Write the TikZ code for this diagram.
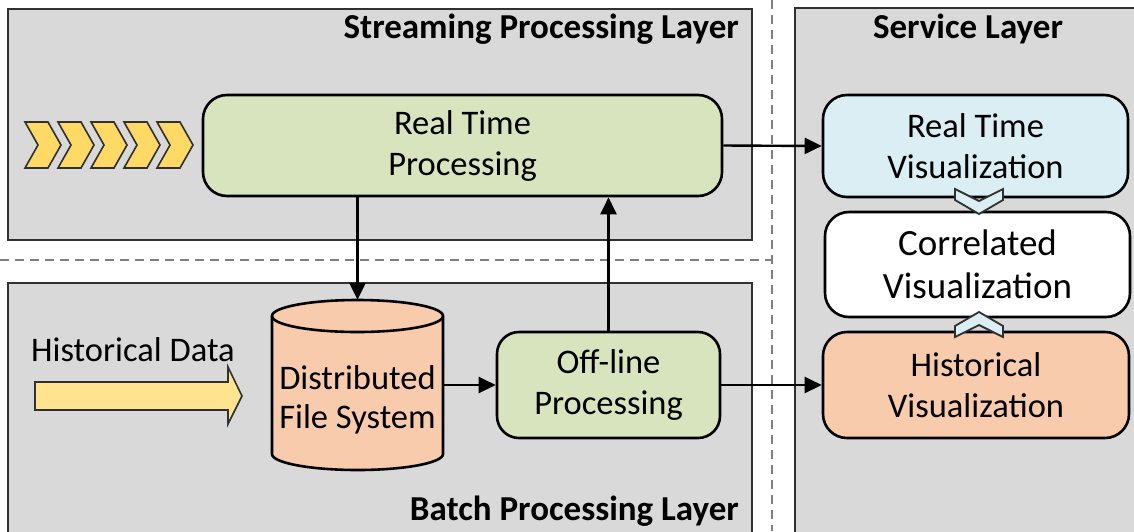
\documentclass[tikz,border=0pt]{standalone}
\usepackage{fontspec}
\setmainfont{Carlito}
\usetikzlibrary{arrows.meta}

\definecolor{panelgray}{HTML}{D9D9D9}
\definecolor{boxgreen}{HTML}{D7E4BD}
\definecolor{boxpeach}{HTML}{F8CBAD}
\definecolor{boxblue}{HTML}{DAEEF3}
\definecolor{chevyellow}{HTML}{FFD966}
\definecolor{arrowyellow}{HTML}{FFE38F}
\definecolor{dashgray}{HTML}{7F7F7F}
\definecolor{edgegray}{HTML}{303030}

\tikzset{
  panel/.style={draw=edgegray, line width=1.8pt, fill=panelgray},
  sepline/.style={draw=dashgray, line width=1.4pt, dash pattern=on 9pt off 6pt},
  layertitle/.style={font=\fontsize{35}{42}\selectfont\bfseries, inner sep=0pt},
  procbox/.style={draw=black, line width=2.6pt, rounded corners=24pt, align=center,
    font=\fontsize{34.5}{41}\selectfont, inner sep=0pt},
  store/.style={draw=black, line width=2.6pt, fill=boxpeach},
  flow/.style={draw=black, line width=2.4pt, -{Triangle[length=17pt,width=16pt]}},
  chev/.style={draw=edgegray, line width=1.6pt, fill=chevyellow, line join=miter},
  smallchev/.style={draw=edgegray, line width=1.8pt, fill=boxblue, line join=miter},
  bigarrow/.style={draw=edgegray, line width=1.6pt, fill=arrowyellow, line join=miter},
}

\begin{document}
\begin{tikzpicture}[x=1pt,y=-1pt]
\useasboundingbox (0,0) rectangle (1134,531);
\fill[white] (0,0) rectangle (1134,531);
\clip (0,0) rectangle (1134,531);

% layer panels
\path[panel] (8,9) rectangle (752,240);
\path[panel] (8,283) rectangle (752,545);
\path[panel] (795,8) rectangle (1150,545);

% separators between the layers
\path[sepline] (0,260) -- (772,260);
\path[sepline] (772,0) -- (772,531);

% layer titles
\node[layertitle, anchor=east] (tstream) at (739,29) {Streaming Processing Layer};
\node[layertitle] (tservice) at (968,29) {Service Layer};
\node[layertitle, anchor=east] (tbatch) at (739,511) {Batch Processing Layer};

% incoming stream
\foreach \i in {0,...,4}{
  \pgfmathsetmacro\xo{25+33*\i}
  \path[chev] (\xo,122) -- ++(23,0) -- ++(13,23) -- ++(-13,23) -- ++(-23,0) -- ++(13,-23) -- cycle;
}

% historical data input
\node[font=\fontsize{34.5}{41}\selectfont, inner sep=0pt] (hdata) at (133,350) {Historical Data};
\path[bigarrow] (35,382) -- (228,382) -- (228,367) -- (242,396) -- (228,424) -- (228,410) -- (35,410) -- cycle;

% processing nodes
\node[procbox, fill=boxgreen, minimum width=519pt, minimum height=101pt] (rtp) at (462.5,145.5) {Real Time\\Processing};

% distributed file system drawn as a cylinder
\path[store] (272,316) -- (272,454)
  arc[start angle=180, end angle=360, x radius=85.5pt, y radius=16pt]
  -- (443,316)
  arc[start angle=0, end angle=180, x radius=85.5pt, y radius=16pt] -- cycle;
\draw[line width=2.6pt] (272,316) arc[start angle=180, end angle=360, x radius=85.5pt, y radius=16pt];
\node[inner sep=0pt, minimum width=171pt, minimum height=170pt] (dfs) at (357.5,385) {};
\node[align=center, inner sep=0pt, font=\fontsize{34.5}{39}\selectfont] (dfslabel) at (357.5,400) {Distributed\\File System};

\node[procbox, fill=boxgreen, rounded corners=22pt, minimum width=223pt, minimum height=106pt] (off) at (608.5,385) {Off-line\\Processing};

% service nodes
\node[procbox, fill=boxblue, minimum width=305pt, minimum height=102pt] (rtv) at (975.5,146) {Real Time\\Visualization};
\node[procbox, fill=white, minimum width=305pt, minimum height=105pt, font=\fontsize{37}{43}\selectfont] (corr) at (977.5,264.5) {Correlated\\Visualization};
\node[procbox, fill=boxpeach, minimum width=306pt, minimum height=106pt] (hist) at (976,385) {Historical\\Visualization};

% merge markers
\path[smallchev] (955,189) -- (979,201) -- (1003,189) -- (1003,200) -- (979,214) -- (955,200) -- cycle;
\path[smallchev] (955,337) -- (979,325) -- (1003,337) -- (1003,326) -- (979,312) -- (955,326) -- cycle;

% data flow
\draw[flow] (dfs.north |- rtp.south) -- (dfs.north);
\draw[flow] (dfs.east |- off.west) -- (off.west);
\draw[flow] (off.north) -- (off.north |- rtp.south);
\draw[flow] (rtp.east) -- (rtv.west);
\draw[flow] (off.east) -- (hist.west);
\end{tikzpicture}
\end{document}
